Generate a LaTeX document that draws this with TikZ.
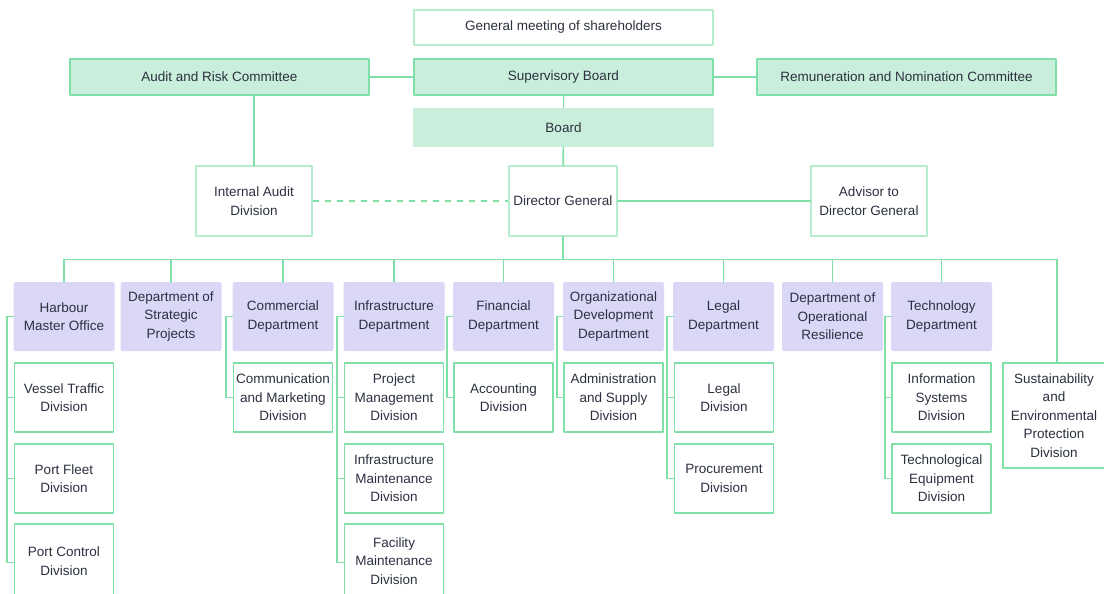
\documentclass[tikz,border=0pt]{standalone}
\usepackage{fontspec}
\setmainfont{Liberation Sans}
\usepackage{xcolor}
\usepackage{tikz}
\usetikzlibrary{positioning}
\definecolor{grnline}{HTML}{7FE0A8}
\definecolor{grnsoft}{HTML}{B6EDCF}
\definecolor{grnfill}{HTML}{C9EEDB}
\definecolor{purpfill}{HTML}{DBD7F7}
\definecolor{txtgray}{HTML}{2C3140}
\tikzset{
  boxtext/.style={text=txtgray,font=\fontsize{13.5}{18.5}\selectfont,align=center,inner sep=2pt},
  govbox/.style={boxtext,draw=grnline,fill=grnfill,line width=1.6pt,minimum width=299pt,minimum height=36pt},
  boardbox/.style={boxtext,fill=grnfill,minimum width=301pt,minimum height=39pt},
  whitebox/.style={boxtext,draw=grnsoft,fill=white,line width=1.4pt,minimum height=70pt},
  deptbox/.style={boxtext,fill=purpfill,rounded corners=2pt,minimum width=101pt,minimum height=69pt},
  divbox/.style={boxtext,draw=grnline,fill=white,line width=1.5pt,minimum width=99pt,minimum height=69pt},
  lastdiv/.style={divbox,minimum height=74pt},
  link/.style={draw=grnline,line width=1.7pt}
}
\begin{document}
\begin{tikzpicture}[x=1pt,y=-1pt,line cap=round,line join=round]
\useasboundingbox (0,0) rectangle (1104,594);
% governance
\node[whitebox,minimum width=299pt,minimum height=35pt] (gms) at (563.5,27.5) {General meeting of shareholders};
\node[govbox] (arc) at (219.5,77) {Audit and Risk Committee};
\node[govbox] (sb) at (563.5,77) {Supervisory Board};
\node[govbox] (rnc) at (906.5,77) {Remuneration and Nomination Committee};
\node[boardbox] (bd) at (563.5,127.5) {Board};
\node[whitebox,minimum width=116pt] (iad) at (254,201) {Internal Audit\\Division};
\node[whitebox,minimum width=108pt] (dg) at (563,201) {Director General};
\node[whitebox,minimum width=116pt] (adv) at (869,201) {Advisor to\\Director General};
\draw[link] (arc) -- (sb);
\draw[link] (sb) -- (rnc);
\draw[link] (sb) -- (bd);
\draw[link] (bd) -- (dg);
\draw[link] (iad.north) -- (iad.north |- arc.south);
\draw[link,dash pattern=on 6pt off 6pt,line cap=butt] (iad) -- (dg);
\draw[link] (dg) -- (adv);
% departments
\coordinate (busL) at (64,259.5);
\coordinate (busR) at (1057,259.5);
\node[deptbox] (hmo) at (64,316.5) {Harbour\\Master Office};
\node[deptbox] (dsp) at (171,316.5) {Department of\\Strategic\\Projects};
\node[deptbox] (cmd) at (283,316.5) {Commercial\\Department};
\node[deptbox] (ifd) at (394,316.5) {Infrastructure\\Department};
\node[deptbox] (fnd) at (503.5,316.5) {Financial\\Department};
\node[deptbox] (odd) at (613.5,316.5) {Organizational\\Development\\Department};
\node[deptbox] (lgd) at (723.5,316.5) {Legal\\Department};
\node[deptbox] (dor) at (832.5,316.5) {Department of\\Operational\\Resilience};
\node[deptbox] (tcd) at (941.5,316.5) {Technology\\Department};
\node[divbox,minimum width=102pt,minimum height=105pt] (sep) at (1054,415.5) {Sustainability\\and\\Environmental\\Protection\\Division};
\draw[link] (busL) -- (busR);
\draw[link] (dg) -- (dg |- busL);
\foreach \d in {hmo,dsp,cmd,ifd,fnd,odd,lgd,dor,tcd}
  \draw[link] (\d.north) -- (\d.north |- busL);
\draw[link] (busR) -- (busR |- sep.north);
% divisions
\node[divbox] (vtd) at (64,397.5) {Vessel Traffic\\Division};
\node[divbox] (pfd) at (64,478.5) {Port Fleet\\Division};
\node[lastdiv] (pcd) at (64,561) {Port Control\\Division};
\node[divbox] (cmk) at (283,397.5) {Communication\\and Marketing\\Division};
\node[divbox] (pmd) at (394,397.5) {Project\\Management\\Division};
\node[divbox] (imd) at (394,478.5) {Infrastructure\\Maintenance\\Division};
\node[lastdiv] (fmd) at (394,561) {Facility\\Maintenance\\Division};
\node[divbox] (acd) at (503.5,397.5) {Accounting\\Division};
\node[divbox] (asd) at (613.5,397.5) {Administration\\and Supply\\Division};
\node[divbox] (lgv) at (724,397.5) {Legal\\Division};
\node[divbox] (prd) at (724,478.5) {Procurement\\Division};
\node[divbox] (isd) at (941.5,397.5) {Information\\Systems\\Division};
\node[divbox] (ted) at (941.5,478.5) {Technological\\Equipment\\Division};
\foreach \d/\v in {hmo/vtd,hmo/pfd,cmd/cmk,ifd/pmd,ifd/imd,fnd/acd,odd/asd,lgd/lgv,lgd/prd,tcd/isd,tcd/ted}
  \draw[link] (\d.west) -- ++(-6,0) |- (\v.west);
\draw[link] (hmo.west) -- ++(-6,0) |- ([yshift=-1.5pt]pcd.west);
\draw[link] (ifd.west) -- ++(-6,0) |- ([yshift=-1.5pt]fmd.west);
\end{tikzpicture}
\end{document}
